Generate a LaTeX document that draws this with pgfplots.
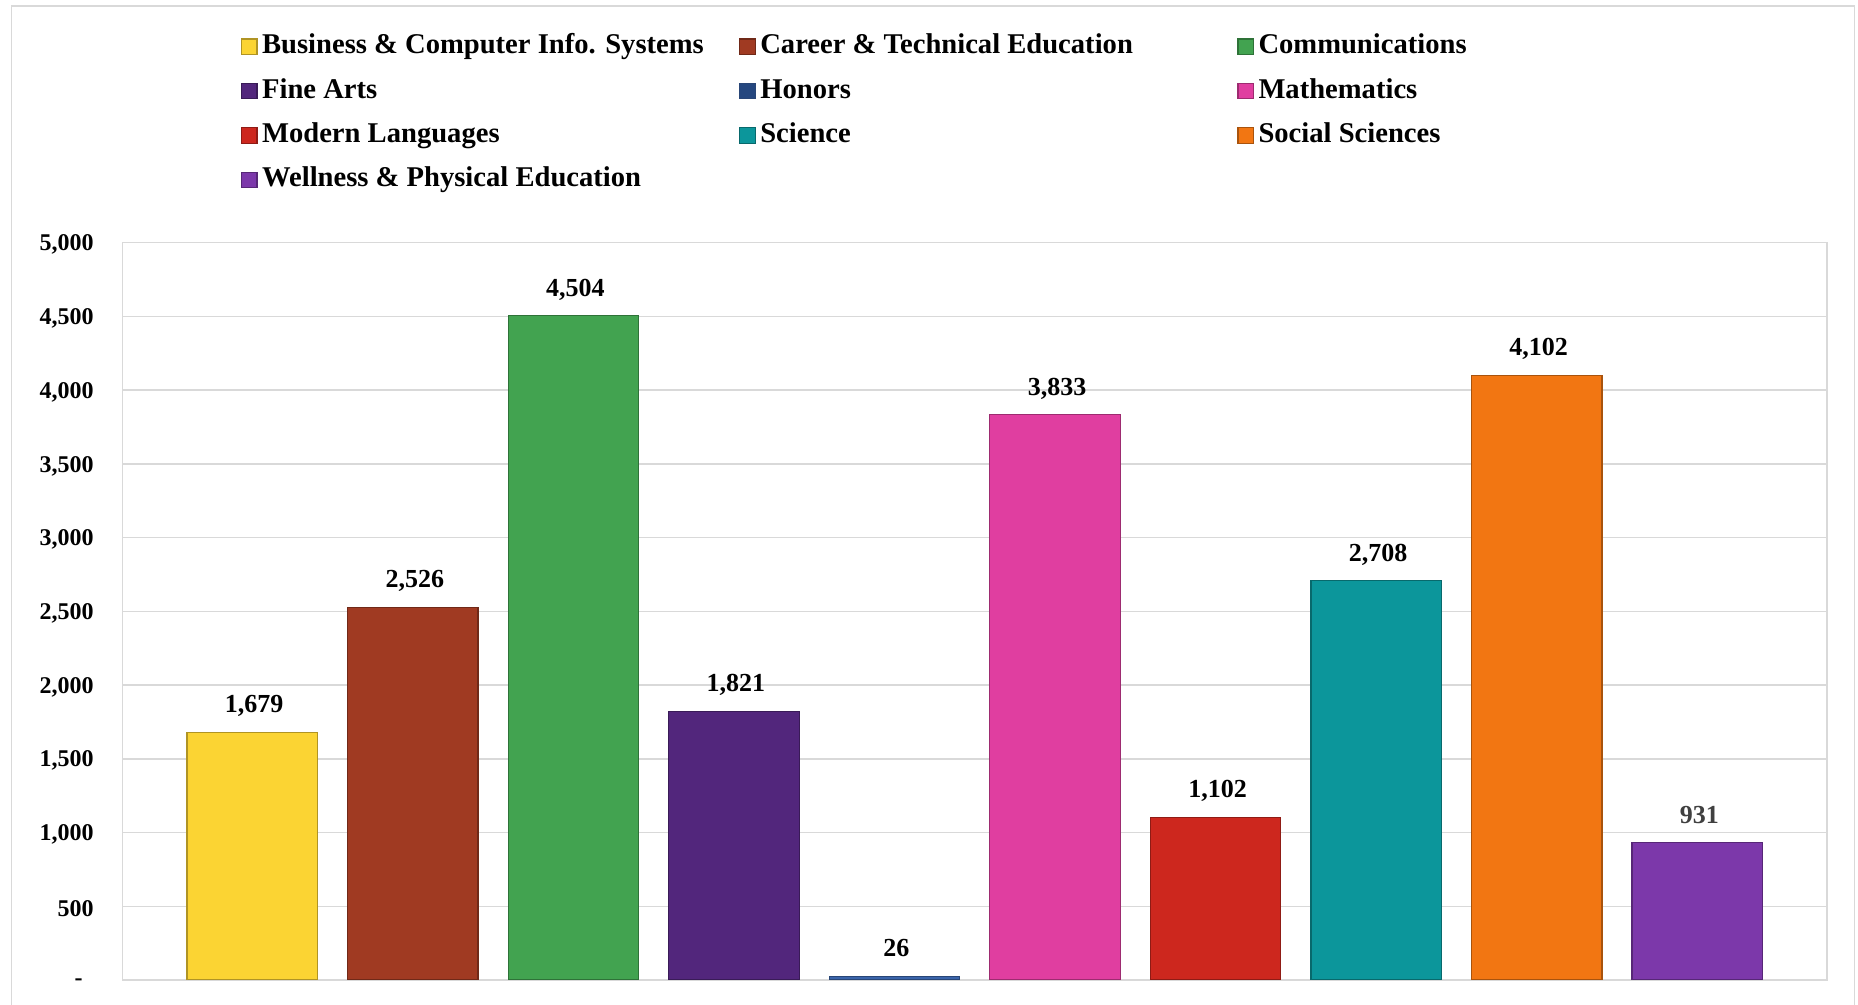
\documentclass[border=0pt]{standalone}
\usepackage{pgfplots}
\pgfplotsset{compat=1.18}
\usepackage{fontspec}
\setmainfont{Liberation Serif}
\definecolor{gridgray}{HTML}{D9D9D9}
\definecolor{cBus}{HTML}{FBD433}
\definecolor{cCar}{HTML}{A03A22}
\definecolor{cCom}{HTML}{42A350}
\definecolor{cFin}{HTML}{52267C}
\definecolor{cHon}{HTML}{3A64AA}
\definecolor{cHonL}{HTML}{25477F}
\definecolor{cMat}{HTML}{E03EA0}
\definecolor{cMod}{HTML}{CD271E}
\definecolor{cSci}{HTML}{0C969B}
\definecolor{cSoc}{HTML}{F27612}
\definecolor{cWel}{HTML}{7C38AA}
\pgfplotsset{
  mybar/.style={ybar, bar width=0.812, bar shift=0pt, fill=#1, draw=#1!70!black, line width=0.6pt,
    legend image code/.code={\fill[fill=#1] (0pt,-3.85pt) rectangle (7.7pt,3.85pt);}},
}
\newcommand{\LE}[1]{\addlegendentry{\makebox[238.5pt][l]{#1}}}
\begin{document}
\begin{tikzpicture}[x=1pt,y=1pt]
\path[use as bounding box] (0,0) rectangle (929,502.5);
\draw[gridgray, line width=0.75pt] (5.85,-10) rectangle (927.2,499.5);
\begin{axis}[
  at={(61.25pt,12.5pt)}, anchor=south west,
  scale only axis, width=852.25pt, height=368.65pt,
  xmin=-0.808, xmax=9.808, ymin=0, ymax=5000,
  xtick=\empty,
  ytick={0,500,1000,1500,2000,2500,3000,3500,4000,4500,5000},
  yticklabels={\makebox[9.5pt][l]{-},500,{1,000},{1,500},{2,000},{2,500},{3,000},{3,500},{4,000},{4,500},{5,000}},
  ymajorgrids, grid style={draw=gridgray, line width=0.75pt},
  axis line style={draw=gridgray, line width=0.75pt},
  major tick length=0pt,
  tick label style={font=\fontsize{12}{14}\selectfont\bfseries},
  yticklabel style={inner sep=0pt, xshift=-14.2pt, yshift=-1pt},
  /pgf/number format/1000 sep={,},
  /pgf/number format/assume math mode=true,
  nodes near coords,
  nodes near coords style={font=\fontsize{13}{15}\selectfont\bfseries, anchor=base, yshift=9.8pt, xshift=1pt, text=black},
  legend columns=3,
  legend cell align=left,
  legend style={at={(0.06923,1.2841)}, anchor=north west, draw=none, fill=none, inner sep=0pt,
    row sep=9.2pt, font=\fontsize{14.3}{16}\selectfont\bfseries,
    nodes={inner sep=0pt, text height=10pt, text depth=3pt},
    /tikz/every odd column/.append style={column sep=2.3pt}},
]
\addplot[mybar=cBus] coordinates {(0,1679)}; \LE{Business \& Computer Info. Systems}
\addplot[mybar=cCar] coordinates {(1,2526)}; \LE{Career \& Technical Education}
\addplot[mybar=cCom] coordinates {(2,4504)}; \LE{Communications}
\addplot[mybar=cFin] coordinates {(3,1821)}; \LE{Fine Arts}
\addplot[mybar=cHon, legend image code/.code={\fill[fill=cHonL] (0pt,-3.85pt) rectangle (7.7pt,3.85pt);}] coordinates {(4,26)}; \LE{Honors}
\addplot[mybar=cMat] coordinates {(5,3833)}; \LE{Mathematics}
\addplot[mybar=cMod] coordinates {(6,1102)}; \LE{Modern Languages}
\addplot[mybar=cSci] coordinates {(7,2708)}; \LE{Science}
\addplot[mybar=cSoc] coordinates {(8,4102)}; \LE{Social Sciences}
\addplot[mybar=cWel, every node near coord/.append style={text=black!75}] coordinates {(9,931)}; \LE{Wellness \& Physical Education}
\end{axis}
\end{tikzpicture}
\end{document}
